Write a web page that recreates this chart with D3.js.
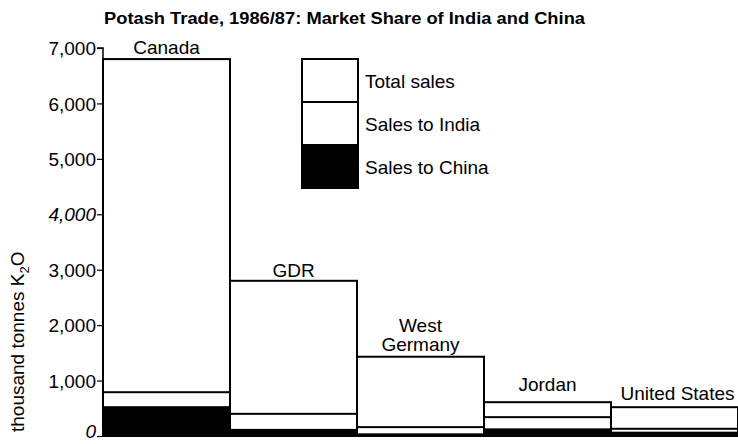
<!DOCTYPE html>
<html lang="en">
    <head>
        <title>Potash Trade, 1986/87</title>
        <script src="https://d3js.org/d3.v7.min.js"></script>
        <style>
            body { margin: 0; background: #fff; }
            text { font-family: "Liberation Sans", Arial, sans-serif; fill: #000; }
        </style>
    </head>
    <body>
    <div id="mainDiv"></div>

        <script type="text/javascript">
            // values, thousand tonnes K2O
            const countries = ['Canada', 'GDR', 'West Germany', 'Jordan', 'United States']
            const totalSales = [6800, 2800, 1430, 610, 520]
            const indiaSales = [270, 290, 130, 220, 70]
            const chinaSales = [520, 110, 30, 120, 60]
            const yTicks = [0, 1000, 2000, 3000, 4000, 5000, 6000, 7000]
            const italicTicks = [0, 4000]
            const legendLabels = ['Total sales', 'Sales to India', 'Sales to China']

            const width = 738
            const height = 444

            const margins = { top: 48, bottom: 8, left: 103, right: 0 }
            const fontSize = '19px'

            const svg = d3.select('#mainDiv').append('svg')
                .attr('width', width)
                .attr('height', height)

            const dataset = countries.map((c, i) => ({
                country: c,
                total: totalSales[i],
                india: indiaSales[i],
                china: chinaSales[i]
            }))

            const xScale = d3.scaleBand()
                .domain(countries)
                .range([margins.left, width - margins.right])
                .padding(0)

            const yScale = d3.scaleLinear()
                .domain([0, 7000])
                .range([height - margins.bottom, margins.top])

            // title
            svg.append('text')
                .attr('x', 104)
                .attr('y', 24)
                .attr('textLength', 481)
                .attr('lengthAdjust', 'spacingAndGlyphs')
                .style('font-size', '17px')
                .style('font-weight', 'bold')
                .text('Potash Trade, 1986/87: Market Share of India and China')

            const bars = svg.append('g')

            // total sales
            bars.selectAll('rect.total')
                .data(dataset)
                .join('rect')
                .attr('class', 'total')
                .attr('x', d => xScale(d.country))
                .attr('y', d => yScale(d.total))
                .attr('width', xScale.bandwidth())
                .attr('height', d => yScale(0) - yScale(d.total))
                .attr('fill', '#fff')
                .attr('stroke', '#000')
                .attr('stroke-width', 2)

            // sales to india (stacked on china)
            bars.selectAll('rect.india')
                .data(dataset)
                .join('rect')
                .attr('class', 'india')
                .attr('x', d => xScale(d.country))
                .attr('y', d => yScale(d.china + d.india))
                .attr('width', xScale.bandwidth())
                .attr('height', d => yScale(0) - yScale(d.china + d.india))
                .attr('fill', '#fff')
                .attr('stroke', '#000')
                .attr('stroke-width', 2)

            // sales to china
            bars.selectAll('rect.china')
                .data(dataset)
                .join('rect')
                .attr('class', 'china')
                .attr('x', d => xScale(d.country))
                .attr('y', d => yScale(d.china))
                .attr('width', xScale.bandwidth())
                .attr('height', d => yScale(0) - yScale(d.china))
                .attr('fill', '#000')
                .attr('stroke', '#000')
                .attr('stroke-width', 2)

            // country labels above bars
            const labelGap = { 'Canada': 5, 'GDR': 4, 'West Germany': 25, 'Jordan': 11, 'United States': 7 }
            const labels = svg.append('g')
                .selectAll('text')
                .data(dataset)
                .join('text')
                .attr('x', d => xScale(d.country) + xScale.bandwidth() / 2 + (d.country === 'United States' ? 3 : 0))
                .attr('y', d => yScale(d.total) - labelGap[d.country])
                .attr('text-anchor', 'middle')
                .style('font-size', fontSize)
            labels.each(function (d) {
                const t = d3.select(this)
                if (d.country === 'West Germany') {
                    t.append('tspan').attr('x', t.attr('x')).text('West')
                    t.append('tspan').attr('x', t.attr('x')).attr('dy', 19).text('Germany')
                } else {
                    t.text(d.country)
                }
            })

            // y axis
            const yAxis = d3.axisLeft(yScale)
                .tickValues(yTicks)
                .tickSize(6)
                .tickFormat(d => d3.format(',')(d))

            const yAxisPlot = svg.append('g')
                .attr('class', 'y axis')
                .attr('transform', `translate(${margins.left}, 0)`)
                .call(yAxis)

            yAxisPlot.select('.domain')
                .attr('stroke-width', 1.5)
                .attr('d', `M-6,${yScale(7000)}H0V${yScale(0)}`)
            yAxisPlot.selectAll('.tick line').attr('stroke-width', 1.2)
            yAxisPlot.selectAll('.tick text')
                .attr('x', -7)
                .attr('dy', d => d === 0 ? '0.1em' : '0.35em') // keep the 0 inside the page edge
                .style('font-size', fontSize)
                .style('font-family', '"Liberation Sans", Arial, sans-serif')
                .style('font-style', d => italicTicks.includes(d) ? 'italic' : 'normal')

            // y axis title
            const yTitle = svg.append('text')
                .attr('transform', `translate(24, ${yScale(1700)}) rotate(-90)`)
                .attr('text-anchor', 'middle')
                .style('font-size', fontSize)
            yTitle.append('tspan').text('thousand tonnes K')
            yTitle.append('tspan').attr('dy', 5).style('font-size', '13px').text('2')
            yTitle.append('tspan').attr('dy', -5).text('O')

            // legend
            const legend = svg.append('g').attr('transform', 'translate(302, 59)')
            const boxW = 56
            const boxH = 43
            legend.selectAll('rect')
                .data(legendLabels)
                .join('rect')
                .attr('x', 0)
                .attr('y', (d, i) => i * boxH)
                .attr('width', boxW)
                .attr('height', boxH)
                .attr('fill', (d, i) => i === 2 ? '#000' : '#fff')
                .attr('stroke', '#000')
                .attr('stroke-width', 2)
            legend.selectAll('text')
                .data(legendLabels)
                .join('text')
                .attr('x', boxW + 7)
                .attr('y', (d, i) => i * boxH + boxH / 2 + 7)
                .style('font-size', fontSize)
                .text(d => d)
        </script>
    </body>
</html>
